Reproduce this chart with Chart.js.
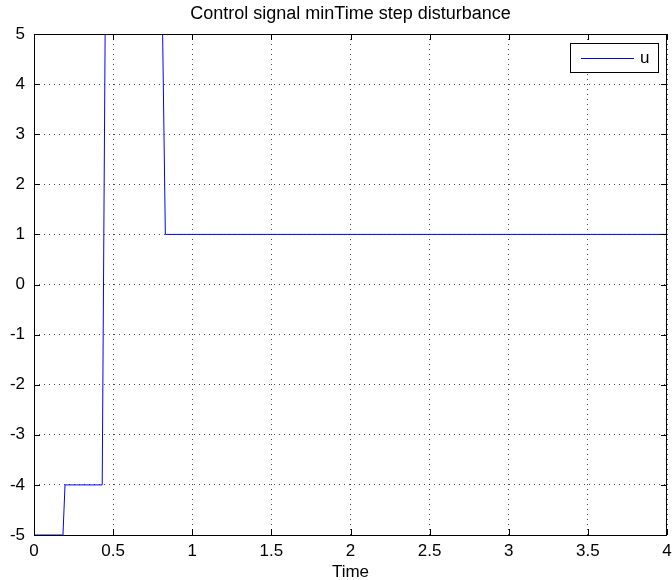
<!DOCTYPE html>
<html>
<head>
<meta charset="utf-8">
<script src="https://cdn.jsdelivr.net/npm/chart.js@4"></script>
<style>
  body { margin: 0; background: #fff; }
  #wrap { width: 672px; height: 580px; }
</style>
</head>
<body>
<div id="wrap"><canvas id="c" width="672" height="580"></canvas></div>
<script>
// data (values above 5 go off the top of the axes)
const timeVals = [0, 0.183, 0.196, 0.431, 0.47, 0.77, 0.83, 4];
const uVals = [-5, -5, -4, -4, 15, 15, 1, 1];
const xTicks = [0, 0.5, 1, 1.5, 2, 2.5, 3, 3.5, 4];
const yTicks = [-5, -4, -3, -2, -1, 0, 1, 2, 3, 4, 5];
const titleText = 'Control signal minTime step disturbance';
const xLabel = 'Time';
const seriesName = 'u';

const FONT = 'Liberation Sans, Arial, sans-serif';

// box, inward ticks, title, x label and legend like the matlab figure
const matlabBits = {
  id: 'matlabBits',
  afterDraw(chart) {
    const ctx = chart.ctx;
    const a = chart.chartArea;
    const xs = chart.scales.x, ys = chart.scales.y;
    ctx.save();
    ctx.strokeStyle = '#000';
    ctx.lineWidth = 1;
    ctx.strokeRect(Math.round(a.left) + 0.5, Math.round(a.top) + 0.5,
      Math.round(a.right - a.left) - 1, Math.round(a.bottom - a.top));
    ctx.beginPath();
    xTicks.forEach(v => {
      const px = Math.round(xs.getPixelForValue(v)) + 0.5;
      ctx.moveTo(px, a.bottom); ctx.lineTo(px, a.bottom - 6);
      ctx.moveTo(px, a.top); ctx.lineTo(px, a.top + 6);
    });
    yTicks.forEach(v => {
      const py = Math.round(ys.getPixelForValue(v)) + 0.5;
      ctx.moveTo(a.left, py); ctx.lineTo(a.left + 6, py);
      ctx.moveTo(a.right, py); ctx.lineTo(a.right - 6, py);
    });
    ctx.stroke();

    ctx.fillStyle = '#000';
    ctx.textAlign = 'center';
    ctx.textBaseline = 'middle';
    ctx.font = '18px ' + FONT;
    ctx.fillText(titleText, (a.left + a.right) / 2, 14);
    ctx.font = '17px ' + FONT;
    ctx.fillText(xLabel, (a.left + a.right) / 2, 572);

    // legend box
    const lx = 570, ly = 43, lw = 88, lh = 29;
    ctx.fillStyle = '#fff';
    ctx.fillRect(lx, ly, lw, lh);
    ctx.strokeRect(lx + 0.5, ly + 0.5, lw, lh);
    ctx.strokeStyle = '#0000ff';
    ctx.beginPath();
    ctx.moveTo(581, 58.5); ctx.lineTo(634, 58.5);
    ctx.stroke();
    ctx.fillStyle = '#000';
    ctx.textAlign = 'left';
    ctx.font = '17px ' + FONT;
    ctx.fillText(seriesName, 640, 58);
    ctx.restore();
  }
};

new Chart(document.getElementById('c'), {
  type: 'line',
  data: {
    datasets: [{
      label: seriesName,
      data: timeVals.map((t, i) => ({ x: t, y: uVals[i] })),
      borderColor: '#0000ff',
      borderWidth: 1,
      pointRadius: 0,
      fill: false,
      tension: 0
    }]
  },
  options: {
    responsive: false,
    animation: false,
    events: [],
    layout: { padding: { top: 34, right: 5, left: 0, bottom: 0 } },
    plugins: { legend: { display: false }, title: { display: false }, tooltip: { enabled: false } },
    scales: {
      x: {
        type: 'linear', min: 0, max: 4,
        afterBuildTicks: s => { s.ticks = xTicks.map(v => ({ value: v })); },
        afterFit: s => { s.height = 45; s.paddingRight = 0; },
        grid: { color: 'rgba(0,0,0,0.7)', drawTicks: false, lineWidth: 1 },
        border: { display: false, dash: [1, 4] },
        ticks: { color: '#000', font: { family: FONT, size: 17 }, padding: 6, maxRotation: 0,
          callback: v => String(v) }
      },
      y: {
        type: 'linear', min: -5, max: 5,
        afterBuildTicks: s => { s.ticks = yTicks.map(v => ({ value: v })); },
        afterFit: s => { s.width = 34; s.paddingTop = 0; s.paddingBottom = 0; },
        grid: { color: 'rgba(0,0,0,0.7)', drawTicks: false, lineWidth: 1 },
        border: { display: false, dash: [1, 4] },
        ticks: { color: '#000', font: { family: FONT, size: 17 }, padding: 9,
          callback: v => String(v) }
      }
    }
  },
  plugins: [matlabBits]
});
</script>
</body>
</html>
